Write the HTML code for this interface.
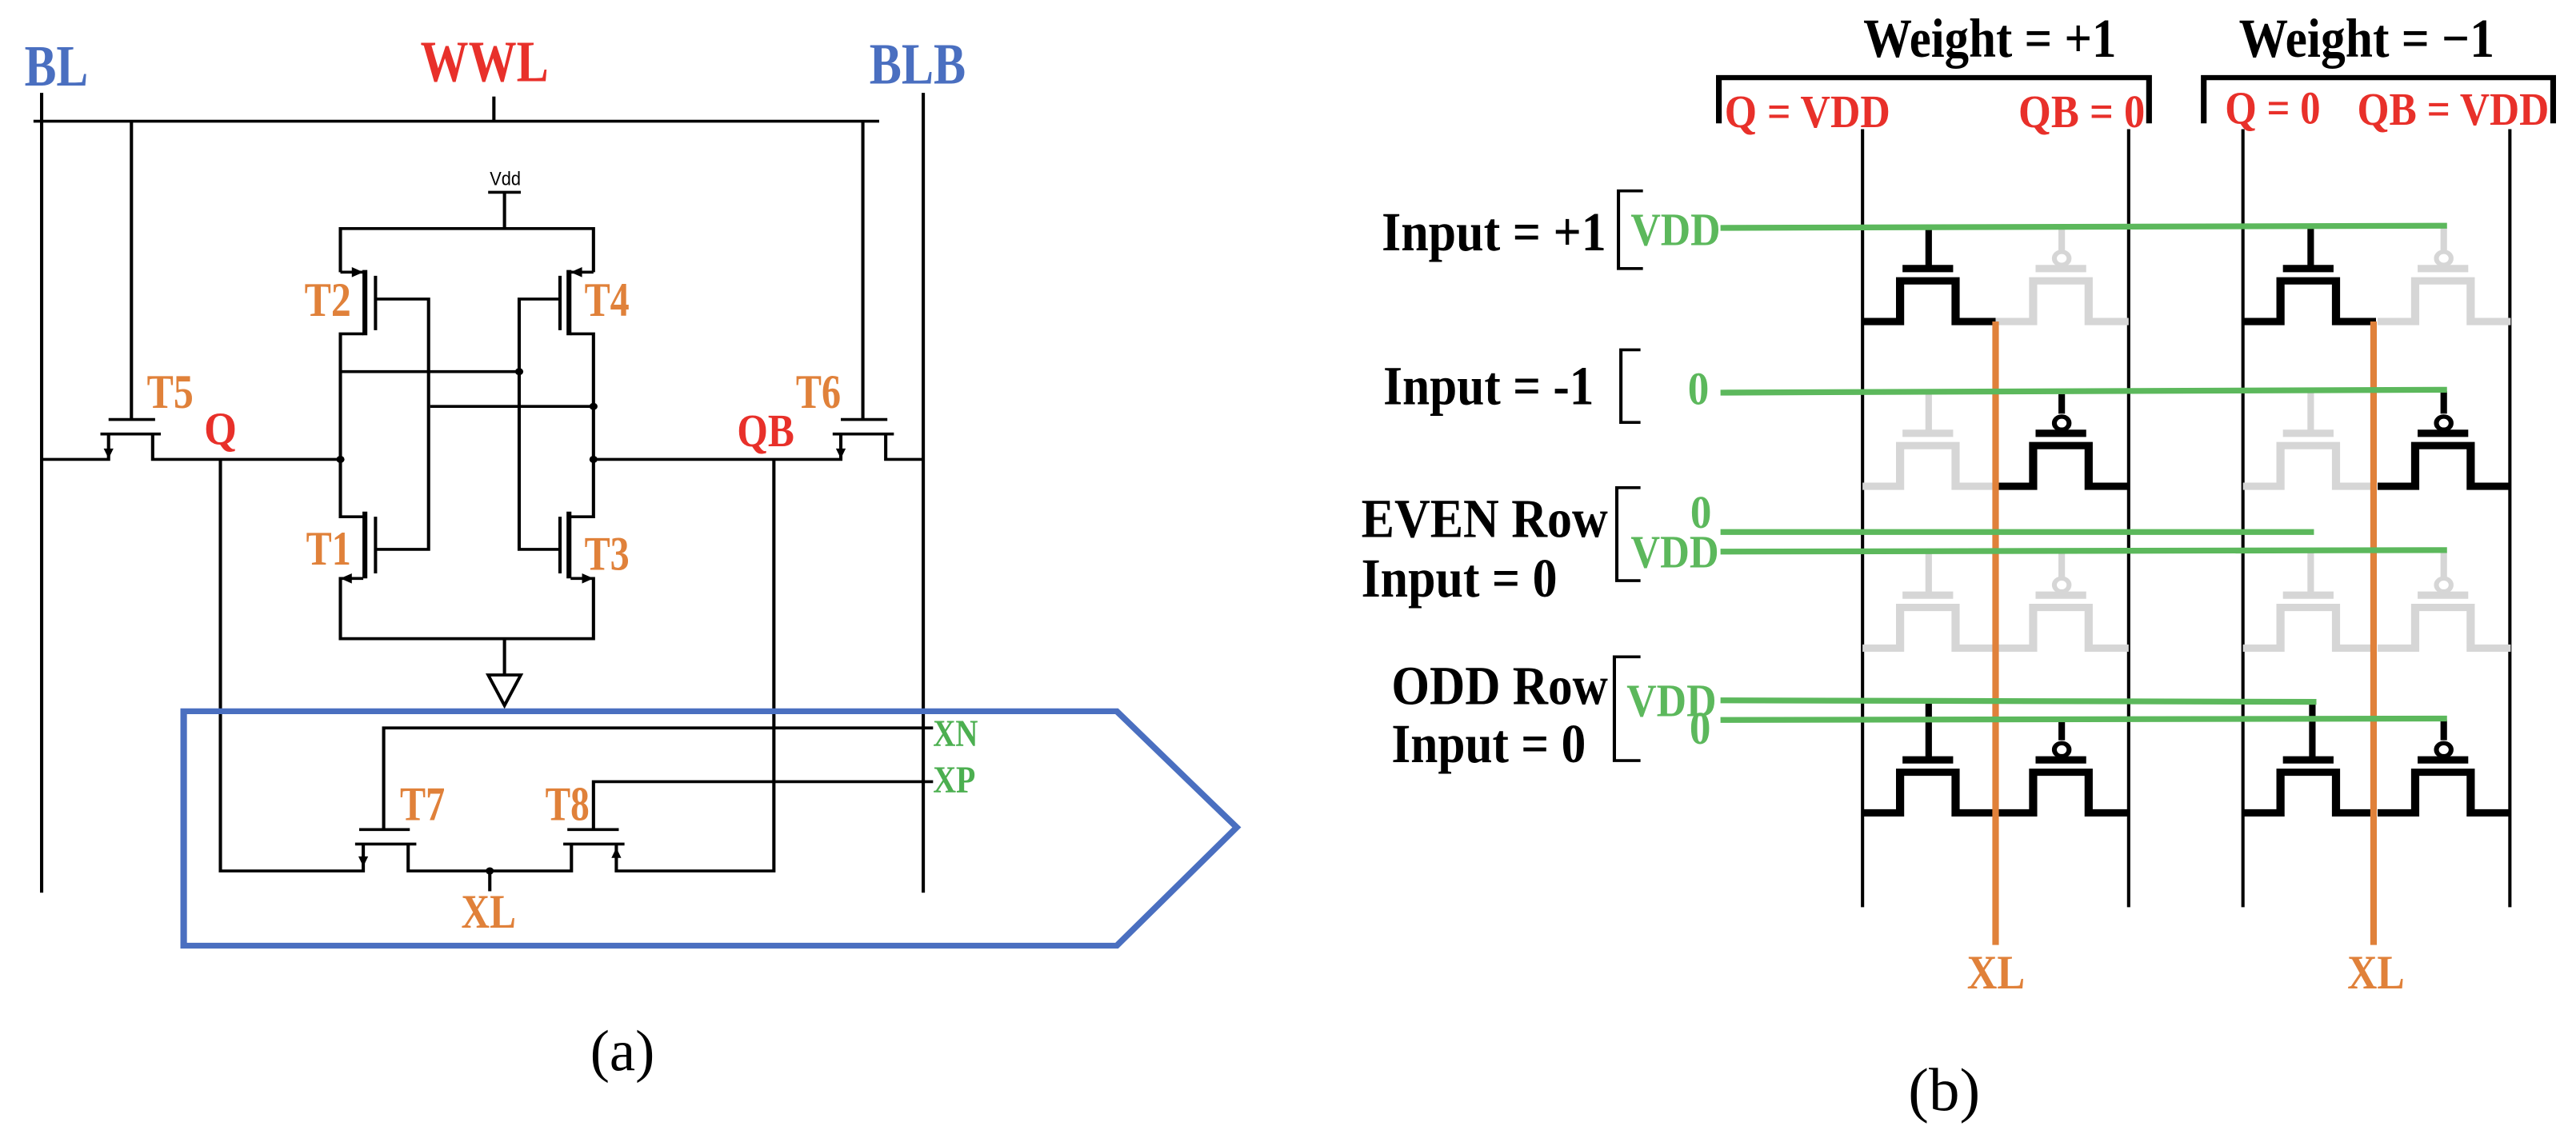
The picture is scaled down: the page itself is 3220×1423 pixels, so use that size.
<!DOCTYPE html>
<html><head><meta charset="utf-8"><style>
html,body{margin:0;padding:0;background:#fff;width:3220px;height:1423px;overflow:hidden}
svg{position:absolute;top:0}
text{font-family:"Liberation Serif",serif;font-weight:bold}
</style></head><body>
<svg style="left:0" width="1600" height="1423" viewBox="0 0 1568 1568" preserveAspectRatio="none">
<g fill="none" stroke="#000" stroke-width="4">
<line x1="41" y1="167" x2="1077" y2="167"/>
<line x1="605" y1="133" x2="605" y2="167"/>
<line x1="51" y1="128" x2="51" y2="1230"/>
<line x1="1131" y1="128" x2="1131" y2="1230"/>
<line x1="161" y1="167" x2="161" y2="578"/>
<line x1="133" y1="578" x2="190" y2="578"/>
<line x1="123" y1="598" x2="197" y2="598"/>
<polyline points="51,633 133,633 133,598"/>
<polyline points="187,598 187,633 417,633"/>
<line x1="1057" y1="167" x2="1057" y2="578"/>
<line x1="1030" y1="578" x2="1087" y2="578"/>
<line x1="1020" y1="598" x2="1095" y2="598"/>
<polyline points="727,633 1030,633 1030,598"/>
<polyline points="1085,598 1085,633 1131,633"/>
<line x1="598" y1="265" x2="638" y2="265"/>
<line x1="618" y1="265" x2="618" y2="315"/>
<polyline points="417,375 417,315 727,315 727,375"/>
<line x1="417" y1="375" x2="445" y2="375"/>
<line x1="447" y1="372" x2="447" y2="462" stroke-width="6"/>
<line x1="460" y1="380" x2="460" y2="455"/>
<polyline points="460,412 525,412 525,757 460,757"/>
<polyline points="445,460 417,460 417,712 445,712"/>
<line x1="727" y1="375" x2="699" y2="375"/>
<line x1="697" y1="372" x2="697" y2="462" stroke-width="6"/>
<line x1="686" y1="380" x2="686" y2="455"/>
<polyline points="686,412 636,412 636,757 686,757"/>
<polyline points="699,460 727,460 727,712 699,712"/>
<line x1="417" y1="512" x2="636" y2="512"/>
<line x1="527" y1="560" x2="727" y2="560"/>
<line x1="447" y1="705" x2="447" y2="797" stroke-width="6"/>
<line x1="460" y1="712" x2="460" y2="790"/>
<line x1="697" y1="705" x2="697" y2="797" stroke-width="6"/>
<line x1="686" y1="712" x2="686" y2="790"/>
<polyline points="445,797 417,797 417,880 727,880 727,797 699,797"/>
<line x1="618" y1="880" x2="618" y2="930"/>
<polygon points="598,930 638,930 618,972"/>
<polyline points="270,633 270,1200 445,1200 445,1163"/>
<line x1="435" y1="1163" x2="510" y2="1163"/>
<line x1="440" y1="1143" x2="502" y2="1143"/>
<polyline points="470,1143 470,1003 1143,1003"/>
<polyline points="500,1163 500,1200 700,1200 700,1163"/>
<line x1="600" y1="1200" x2="600" y2="1228"/>
<line x1="690" y1="1163" x2="765" y2="1163"/>
<line x1="695" y1="1143" x2="758" y2="1143"/>
<polyline points="727,1143 727,1077 1143,1077"/>
<polyline points="755,1163 755,1200 948,1200 948,633"/>
</g>
<g fill="#000">
<circle cx="417" cy="633" r="5"/><circle cx="727" cy="633" r="5"/>
<circle cx="636" cy="512" r="5"/><circle cx="727" cy="560" r="5"/>
<circle cx="600" cy="1200" r="5"/>
<polygon points="127,618 139,618 133,632"/>
<polygon points="1024,618 1036,618 1030,632"/>
<polygon points="431,368 445,375 431,382"/>
<polygon points="713,368 699,375 713,382"/>
<polygon points="431,790 417,797 431,804"/>
<polygon points="713,790 727,797 713,804"/>
<polygon points="439,1180 451,1180 445,1194"/>
<polygon points="749,1182 761,1182 755,1168"/>
</g>
<polygon points="225,980 1368,980 1515,1140 1368,1303 225,1303" fill="none" stroke="#4a6fc0" stroke-width="8"/>
<g lengthAdjust="spacingAndGlyphs">
<text x="30" y="118" font-size="80" fill="#4a6fc0" textLength="78" lengthAdjust="spacingAndGlyphs">BL</text>
<text x="515" y="112" font-size="80" fill="#e8302a" textLength="157" lengthAdjust="spacingAndGlyphs">WWL</text>
<text x="1065" y="115" font-size="80" fill="#4a6fc0" textLength="118" lengthAdjust="spacingAndGlyphs">BLB</text>
<text x="600" y="255" font-size="26" textLength="38" lengthAdjust="spacingAndGlyphs" style="font-family:'Liberation Sans',sans-serif;font-weight:normal">Vdd</text>
<g fill="#e0813a" font-size="66">
<text x="180" y="562" textLength="57" lengthAdjust="spacingAndGlyphs">T5</text>
<text x="975" y="562" textLength="55" lengthAdjust="spacingAndGlyphs">T6</text>
<text x="373" y="435" textLength="57" lengthAdjust="spacingAndGlyphs">T2</text>
<text x="716" y="435" textLength="55" lengthAdjust="spacingAndGlyphs">T4</text>
<text x="375" y="778" textLength="55" lengthAdjust="spacingAndGlyphs">T1</text>
<text x="716" y="785" textLength="55" lengthAdjust="spacingAndGlyphs">T3</text>
<text x="490" y="1130" textLength="55" lengthAdjust="spacingAndGlyphs">T7</text>
<text x="668" y="1130" textLength="54" lengthAdjust="spacingAndGlyphs">T8</text>
<text x="565" y="1278" textLength="67" lengthAdjust="spacingAndGlyphs">XL</text>
</g>
<g fill="#e8302a" font-size="64">
<text x="250" y="612" textLength="40" lengthAdjust="spacingAndGlyphs">Q</text>
<text x="903" y="615" textLength="70" lengthAdjust="spacingAndGlyphs">QB</text></g>
<g fill="#4caf50" font-size="52">
<text x="1143" y="1028" textLength="55" lengthAdjust="spacingAndGlyphs">XN</text>
<text x="1143" y="1092" textLength="52" lengthAdjust="spacingAndGlyphs">XP</text></g>
<text x="723" y="1475" font-size="80" textLength="79" lengthAdjust="spacingAndGlyphs" style="font-weight:normal">(a)</text>
</g>
</svg>

<svg style="left:1620px" width="1600" height="1423" viewBox="0 0 1568 1568" preserveAspectRatio="none">
<defs>
<g id="n"><line x1="-32" y1="0" x2="30" y2="0" stroke-width="10"/><polyline points="-81,73 -35,73 -35,17 33,17 33,73 82,73" stroke-width="10"/></g>
<g id="p"><circle cx="0" cy="-14" r="9" stroke-width="6" fill="#fff"/><line x1="-32" y1="0" x2="30" y2="0" stroke-width="10"/><polyline points="-81,73 -35,73 -35,17 33,17 33,73 82,73" stroke-width="10"/></g>
</defs>
<g fill="none" stroke="#000">
<polyline points="518,170 518,107 1045,107 1045,170" stroke-width="7"/>
<polyline points="1112,170 1112,107 1540,107 1540,170" stroke-width="7"/>
<g stroke-width="4">
<line x1="694" y1="178" x2="694" y2="1250"/><line x1="1020" y1="178" x2="1020" y2="1250"/>
<line x1="1160" y1="178" x2="1160" y2="1250"/><line x1="1487" y1="178" x2="1487" y2="1250"/>
<polyline points="425,263 395,263 395,370 425,370"/>
<polyline points="422,482 398,482 398,582 422,582"/>
<polyline points="422,672 393,672 393,800 422,800"/>
<polyline points="422,905 390,905 390,1048 422,1048"/>
</g>
</g>
<g fill="none" stroke="#d6d6d6" stroke-width="8">
<line x1="938" y1="316" x2="938" y2="345"/><line x1="1406" y1="313" x2="1406" y2="345"/>
<line x1="775" y1="543" x2="775" y2="597"/><line x1="1243" y1="541" x2="1243" y2="597"/>
<line x1="775" y1="762" x2="775" y2="820"/><line x1="1243" y1="760" x2="1243" y2="820"/>
<line x1="938" y1="762" x2="938" y2="795"/><line x1="1406" y1="760" x2="1406" y2="795"/>
<use href="#p" x="938" y="370"/><use href="#p" x="1406" y="370"/>
<use href="#n" x="775" y="597"/><use href="#n" x="1241" y="597"/>
<use href="#n" x="775" y="820"/><use href="#p" x="938" y="820"/>
<use href="#n" x="1241" y="820"/><use href="#p" x="1406" y="820"/>
</g>
<g fill="none" stroke="#000" stroke-width="8">
<line x1="775" y1="316" x2="775" y2="370"/><line x1="1243" y1="313" x2="1243" y2="370"/>
<line x1="938" y1="543" x2="938" y2="570"/><line x1="1406" y1="539" x2="1406" y2="570"/>
<line x1="775" y1="967" x2="775" y2="1047"/><line x1="1245" y1="967" x2="1245" y2="1047"/>
<line x1="938" y1="994" x2="938" y2="1020"/><line x1="1406" y1="992" x2="1406" y2="1020"/>
<use href="#n" x="775" y="370"/><use href="#n" x="1241" y="370"/>
<use href="#p" x="938" y="597"/><use href="#p" x="1406" y="597"/>
<use href="#n" x="775" y="1047"/><use href="#p" x="938" y="1047"/>
<use href="#n" x="1241" y="1047"/><use href="#p" x="1406" y="1047"/>
</g>
<g stroke="#e0813a" stroke-width="8">
<line x1="857" y1="443" x2="857" y2="1302"/><line x1="1320" y1="443" x2="1320" y2="1302"/>
</g>
<g stroke="#5cb85c" stroke-width="8">
<line x1="520" y1="314" x2="1410" y2="311"/>
<line x1="520" y1="541" x2="1410" y2="537"/>
<line x1="520" y1="733" x2="1247" y2="733"/>
<line x1="520" y1="760" x2="1410" y2="758"/>
<line x1="520" y1="965" x2="1250" y2="967"/>
<line x1="520" y1="992" x2="1410" y2="990"/>
</g>
<g font-size="76" fill="#000">
<text x="695" y="78" textLength="310" lengthAdjust="spacingAndGlyphs">Weight = +1</text>
<text x="1155" y="78" textLength="313" lengthAdjust="spacingAndGlyphs">Weight = −1</text>
<text x="105" y="345" textLength="275" lengthAdjust="spacingAndGlyphs">Input = +1</text>
<text x="107" y="557" textLength="258" lengthAdjust="spacingAndGlyphs">Input = -1</text>
<text x="80" y="740" textLength="302" lengthAdjust="spacingAndGlyphs">EVEN Row</text>
<text x="80" y="822" textLength="240" lengthAdjust="spacingAndGlyphs">Input = 0</text>
<text x="117" y="970" textLength="265" lengthAdjust="spacingAndGlyphs">ODD Row</text>
<text x="117" y="1050" textLength="238" lengthAdjust="spacingAndGlyphs">Input = 0</text>
</g>
<g font-size="64" fill="#e8302a">
<text x="525" y="175" textLength="203" lengthAdjust="spacingAndGlyphs">Q = VDD</text>
<text x="885" y="175" textLength="155" lengthAdjust="spacingAndGlyphs">QB = 0</text>
<text x="1138" y="170" textLength="117" lengthAdjust="spacingAndGlyphs">Q = 0</text>
<text x="1300" y="172" textLength="235" lengthAdjust="spacingAndGlyphs">QB = VDD</text>
</g>
<g font-size="64" fill="#5cb85c">
<text x="410" y="338" textLength="110" lengthAdjust="spacingAndGlyphs">VDD</text>
<text x="480" y="557" textLength="26" lengthAdjust="spacingAndGlyphs">0</text>
<text x="483" y="727" textLength="26" lengthAdjust="spacingAndGlyphs">0</text>
<text x="410" y="782" textLength="108" lengthAdjust="spacingAndGlyphs">VDD</text>
<text x="405" y="987" textLength="110" lengthAdjust="spacingAndGlyphs">VDD</text>
<text x="482" y="1025" textLength="26" lengthAdjust="spacingAndGlyphs">0</text>
</g>
<g font-size="66" fill="#e0813a">
<text x="822" y="1362" textLength="71" lengthAdjust="spacingAndGlyphs">XL</text>
<text x="1288" y="1362" textLength="70" lengthAdjust="spacingAndGlyphs">XL</text></g>
<text x="750" y="1530" font-size="84" textLength="88" lengthAdjust="spacingAndGlyphs" style="font-weight:normal">(b)</text>
</svg>
</body></html>
